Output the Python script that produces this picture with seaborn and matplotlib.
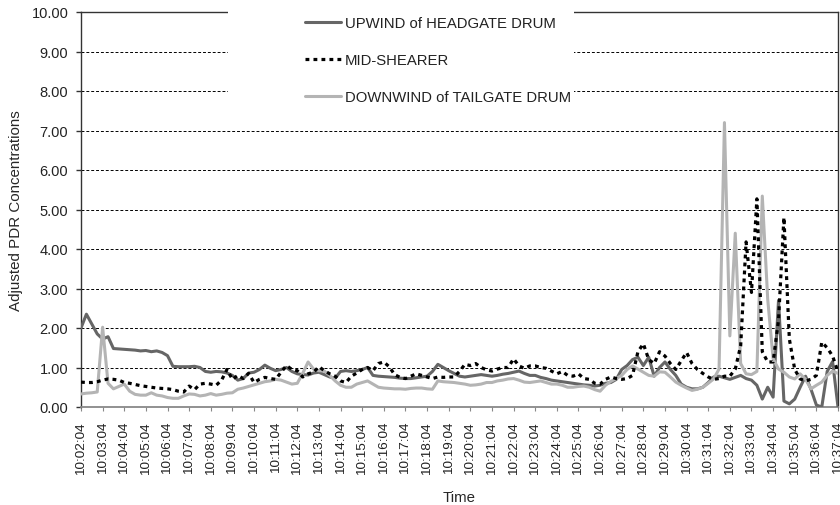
import matplotlib
matplotlib.use("Agg")
import pandas as pd
import matplotlib.pyplot as plt
import seaborn as sns
from matplotlib.patches import Rectangle
from matplotlib.ticker import FormatStrFormatter

# samples every 15 s from 10:02:04 to 10:37:04 (one row = one minute)
start_time = "2000-01-01 10:02:04"
sample_step = "15s"

upwind = [
    2.00, 2.35, 2.10, 1.85,
    1.72, 1.78, 1.48, 1.47,
    1.46, 1.45, 1.44, 1.42,
    1.43, 1.40, 1.42, 1.38,
    1.30, 1.03, 1.02, 1.02,
    1.02, 1.03, 1.00, 0.90,
    0.88, 0.90, 0.89, 0.86,
    0.80, 0.68, 0.72, 0.86,
    0.88, 0.95, 1.06, 0.98,
    0.92, 0.95, 1.00, 0.90,
    0.84, 0.82, 0.81, 0.86,
    0.88, 0.82, 0.76, 0.73,
    0.90, 0.92, 0.90, 0.92,
    0.95, 1.00, 0.80, 0.78,
    0.77, 0.76, 0.75, 0.73,
    0.72, 0.72, 0.74, 0.76,
    0.78, 0.90, 1.08, 1.00,
    0.92, 0.85, 0.78, 0.76,
    0.78, 0.80, 0.82, 0.80,
    0.78, 0.80, 0.83, 0.85,
    0.88, 0.91, 0.85, 0.80,
    0.80, 0.75, 0.72, 0.68,
    0.66, 0.64, 0.62, 0.60,
    0.58, 0.56, 0.55, 0.53,
    0.55, 0.60, 0.62, 0.70,
    0.95, 1.05, 1.20, 1.26,
    1.05, 1.26, 0.78, 1.00,
    1.14, 0.95, 0.80, 0.58,
    0.50, 0.46, 0.46, 0.50,
    0.62, 0.76, 0.78, 0.74,
    0.70, 0.75, 0.80, 0.72,
    0.68, 0.55, 0.20, 0.50,
    0.25, 2.70, 0.15, 0.08,
    0.20, 0.50, 0.78, 0.45,
    0.05, 0.00, 0.90, 1.15,
    0.00,
]

mid_shearer = [
    0.63, 0.62, 0.62, 0.64,
    0.68, 0.71, 0.70, 0.68,
    0.62, 0.60, 0.57, 0.54,
    0.52, 0.50, 0.48, 0.47,
    0.46, 0.44, 0.40, 0.38,
    0.53, 0.44, 0.58, 0.60,
    0.58, 0.55, 0.68, 0.95,
    0.70, 0.80, 0.72, 0.85,
    0.62, 0.70, 0.75, 0.72,
    0.70, 0.88, 1.05, 0.95,
    0.92, 0.76, 0.84, 0.88,
    1.02, 0.92, 0.84, 0.78,
    0.66, 0.62, 0.78, 0.86,
    0.95, 1.00, 0.92, 1.10,
    1.14, 1.02, 0.82, 0.75,
    0.72, 0.78, 0.84, 0.80,
    0.76, 0.72, 0.76, 0.75,
    0.76, 0.76, 0.90, 1.08,
    1.05, 1.10, 1.00, 0.94,
    0.91, 0.96, 1.00, 1.00,
    1.22, 1.04, 0.98, 1.04,
    1.04, 1.00, 0.98, 0.91,
    0.84, 0.90, 0.80, 0.78,
    0.84, 0.72, 0.70, 0.60,
    0.58, 0.70, 0.76, 0.72,
    0.70, 0.72, 0.80, 1.40,
    1.60, 1.20, 1.10, 1.40,
    1.29, 1.10, 0.95, 1.17,
    1.38, 1.10, 0.95, 0.85,
    0.76, 0.70, 0.72, 0.78,
    0.78, 0.96, 1.55, 4.18,
    2.90, 5.27, 1.40, 1.14,
    1.14, 2.20, 4.80, 1.72,
    0.95, 0.71, 0.66, 0.70,
    0.80, 1.64, 1.50, 1.29,
    0.89,
]

downwind = [
    0.33, 0.35, 0.36, 0.38,
    2.02, 0.60, 0.46, 0.52,
    0.58, 0.40, 0.32, 0.30,
    0.30, 0.36, 0.30, 0.28,
    0.24, 0.22, 0.22, 0.28,
    0.33, 0.32, 0.28, 0.30,
    0.34, 0.30, 0.32, 0.35,
    0.36, 0.45, 0.48, 0.52,
    0.56, 0.60, 0.64, 0.66,
    0.70, 0.68, 0.63, 0.58,
    0.60, 0.85, 1.14, 0.96,
    0.92, 0.91, 0.80, 0.66,
    0.55, 0.50, 0.50, 0.58,
    0.62, 0.66, 0.58, 0.50,
    0.48, 0.47, 0.46, 0.46,
    0.45, 0.47, 0.48, 0.48,
    0.46, 0.45, 0.66, 0.64,
    0.63, 0.62, 0.60, 0.58,
    0.55, 0.56, 0.58, 0.62,
    0.62, 0.66, 0.68, 0.71,
    0.72, 0.68, 0.63, 0.62,
    0.64, 0.66, 0.62, 0.58,
    0.58, 0.55, 0.50, 0.50,
    0.52, 0.53, 0.50, 0.44,
    0.40, 0.55, 0.65, 0.72,
    0.80, 0.95, 1.04, 0.96,
    0.88, 0.80, 0.78, 0.89,
    0.88, 0.76, 0.63, 0.55,
    0.48, 0.42, 0.45, 0.50,
    0.60, 0.71, 0.96, 7.20,
    1.80, 4.40, 1.10, 0.84,
    0.82, 0.90, 5.34, 2.73,
    1.22, 0.96, 0.88, 0.76,
    0.71, 0.84, 0.70, 0.46,
    0.55, 0.63, 0.80, 0.91,
    0.85,
]

series_names = ["UPWIND of HEADGATE DRUM", "MID-SHEARER", "DOWNWIND of TAILGATE DRUM"]
y_ticks = [0, 1, 2, 3, 4, 5, 6, 7, 8, 9, 10]

times = pd.date_range(start_time, periods=len(upwind), freq=sample_step)
df = pd.DataFrame({
    "Time": times,
    series_names[0]: upwind,
    series_names[1]: mid_shearer,
    series_names[2]: downwind,
})
tick_times = times[::4]
tick_labels = [t.strftime("%H:%M:%S") for t in tick_times]

sns.set_style("white")
plt.rcParams["font.family"] = ["Liberation Sans", "DejaVu Sans"]
plt.rcParams["text.color"] = "#222222"

fig = plt.figure(figsize=(8.4, 5.06), dpi=100)
ax = fig.add_axes([81 / 840, 98 / 506, 757 / 840, 395 / 506])

sns.lineplot(data=df, x="Time", y=series_names[0], ax=ax, color="#666666",
             lw=2.2, label=series_names[0], zorder=3)
sns.lineplot(data=df, x="Time", y=series_names[1], ax=ax, color="black",
             lw=2.3, label=series_names[1], zorder=4)
sns.lineplot(data=df, x="Time", y=series_names[2], ax=ax, color="#b4b4b4",
             lw=2.2, label=series_names[2], zorder=3)
ax.get_lines()[1].set_linestyle((0, (1.2, 1.3)))

ax.set_xlim(times[0], times[-1])
ax.set_ylim(0, 10)
ax.set_yticks(y_ticks)
ax.yaxis.set_major_formatter(FormatStrFormatter("%.2f"))
ax.set_xticks(tick_times)
ax.set_xticklabels(tick_labels, rotation=90, fontsize=9.7, color="#222222")
ax.tick_params(axis="y", labelsize=10.5, labelcolor="#222222", length=3.6,
               width=1, color="#333333", pad=5.5, left=True)
ax.tick_params(axis="x", length=3, width=0.8, color="#888888", pad=7,
               bottom=True)

ax.set_axisbelow(True)
ax.yaxis.grid(True, color="black", linestyle=(0, (3, 2)), lw=0.7)
ax.xaxis.grid(False)

for side in ["left", "top", "right"]:
    ax.spines[side].set_color("#333333")
    ax.spines[side].set_linewidth(1.0)
ax.spines["bottom"].set_color("#888888")
ax.spines["bottom"].set_linewidth(1.3)

ax.set_xlabel("Time", fontsize=10.8, labelpad=12)
ax.set_ylabel("Adjusted PDR Concentrations", fontsize=10.9, labelpad=6)

# white legend area that covers the grid like in Excel
ax.add_artist(Rectangle((228 / 840, 1 - 122 / 506), 346 / 840, 122 / 506,
                        transform=fig.transFigure, facecolor="white",
                        edgecolor="none", clip_on=False, zorder=6))
handles, labels = ax.get_legend_handles_labels()
leg = ax.legend(handles, labels, loc="upper left",
                bbox_to_anchor=(305 / 840, 1 - 17 / 506),
                bbox_transform=fig.transFigure, frameon=False, fontsize=10.7,
                borderpad=0, borderaxespad=0, handlelength=2.4,
                handletextpad=0.3, labelspacing=1.55)
leg.set_zorder(7)

fig.savefig("out.png", dpi=100)
